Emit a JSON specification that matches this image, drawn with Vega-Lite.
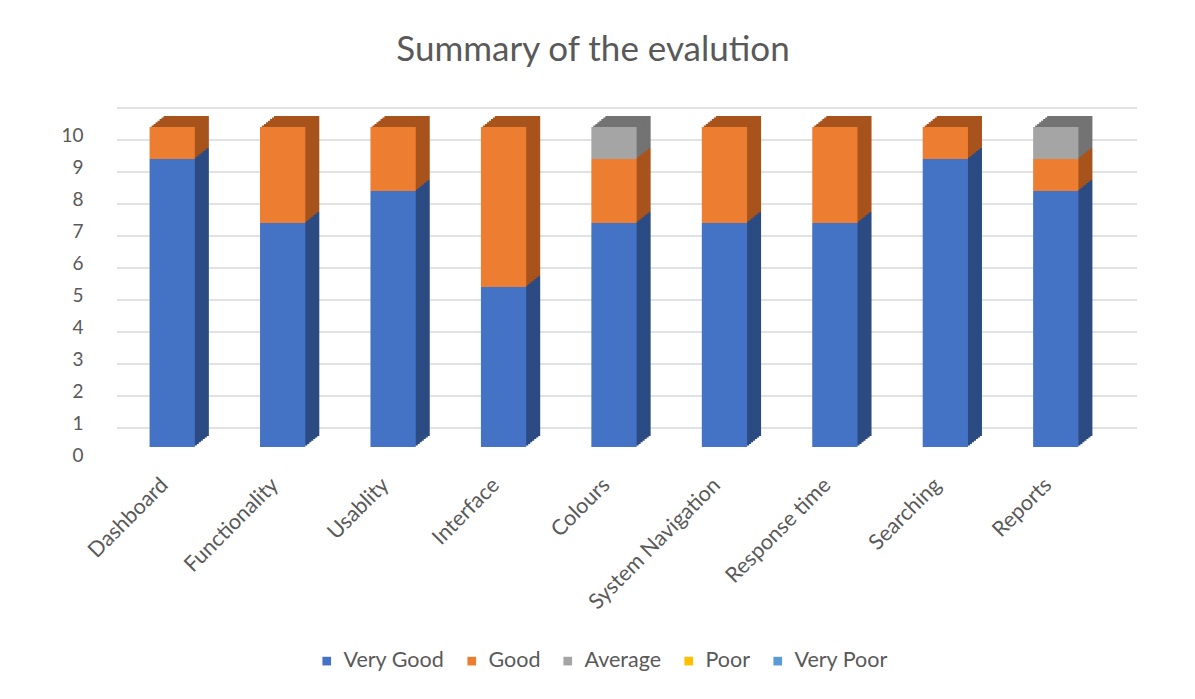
{
  "$schema": "https://vega.github.io/schema/vega-lite/v6.json",
  "autosize": {"type": "none"},
  "width": 994,
  "height": 320,
  "padding": {"left": 117, "top": 127, "right": 84, "bottom": 252},
  "background": "white",
  "title": {
    "text": "Summary of the evalution",
    "font": "Lato",
    "fontSize": 35,
    "fontWeight": "normal",
    "color": "#595959",
    "anchor": "middle",
    "dx": -21,
    "offset": 39
  },
  "config": {
    "view": {"stroke": null},
    "font": "Lato",
    "axisY": {"title": null, "values": [0,1,2,3,4,5,6,7,8,9,10], "tickCount": 10, "labelOverlap": false, "grid": false, "domain": false, "ticks": false,
      "labelFont": "Lato", "labelFontSize": 19, "labelColor": "#595959", "labelPadding": 34, "labelOffset": 8},
    "axisX": {"title": null, "labelAngle": -45, "domain": false, "ticks": false, "grid": false,
      "labelFont": "Lato", "labelFontSize": 21.5, "labelColor": "#595959", "labelPadding": 27, "labelOffset": -15}
  },
  "datasets": {
    "bars": [
      {"item": "Dashboard", "rating": "Very Good", "idx": 1, "count": 9},
      {"item": "Dashboard", "rating": "Good", "idx": 2, "count": 1},
      {"item": "Functionality", "rating": "Very Good", "idx": 1, "count": 7},
      {"item": "Functionality", "rating": "Good", "idx": 2, "count": 3},
      {"item": "Usablity", "rating": "Very Good", "idx": 1, "count": 8},
      {"item": "Usablity", "rating": "Good", "idx": 2, "count": 2},
      {"item": "Interface", "rating": "Very Good", "idx": 1, "count": 5},
      {"item": "Interface", "rating": "Good", "idx": 2, "count": 5},
      {"item": "Colours", "rating": "Very Good", "idx": 1, "count": 7},
      {"item": "Colours", "rating": "Good", "idx": 2, "count": 2},
      {"item": "Colours", "rating": "Average", "idx": 3, "count": 1},
      {"item": "System Navigation", "rating": "Very Good", "idx": 1, "count": 7},
      {"item": "System Navigation", "rating": "Good", "idx": 2, "count": 3},
      {"item": "Response time", "rating": "Very Good", "idx": 1, "count": 7},
      {"item": "Response time", "rating": "Good", "idx": 2, "count": 3},
      {"item": "Searching", "rating": "Very Good", "idx": 1, "count": 9},
      {"item": "Searching", "rating": "Good", "idx": 2, "count": 1},
      {"item": "Reports", "rating": "Very Good", "idx": 1, "count": 8},
      {"item": "Reports", "rating": "Good", "idx": 2, "count": 1},
      {"item": "Reports", "rating": "Average", "idx": 3, "count": 1}
    ],
    "grid": [
      {"v": 0}, {"v": 1}, {"v": 2}, {"v": 3}, {"v": 4}, {"v": 5},
      {"v": 6}, {"v": 7}, {"v": 8}, {"v": 9}, {"v": 10}
    ]
  },
  "resolve": {"scale": {"color": "independent"}, "legend": {"color": "independent"}},
  "layer": [
    {
      "data": {"name": "grid"},
      "mark": {"type": "rule", "color": "#D9D9D9", "strokeWidth": 1.5, "xOffset": 26, "x2Offset": 26, "yOffset": -19},
      "encoding": {
        "y": {"field": "v", "type": "quantitative", "scale": {"domain": [0, 10], "nice": false}}
      }
    },
    {
      "data": {"name": "bars"},
      "layer": [
        {"mark": {"type": "bar", "xOffset": 14, "yOffset": -11}},
        {"mark": {"type": "bar", "xOffset": 12, "yOffset": -9.4}},
        {"mark": {"type": "bar", "xOffset": 10, "yOffset": -7.9}},
        {"mark": {"type": "bar", "xOffset": 8, "yOffset": -6.3}},
        {"mark": {"type": "bar", "xOffset": 6, "yOffset": -4.7}},
        {"mark": {"type": "bar", "xOffset": 4, "yOffset": -3.1}},
        {"mark": {"type": "bar", "xOffset": 2, "yOffset": -1.6}}
      ],
      "encoding": {
        "x": {"field": "item", "type": "nominal", "sort": null, "scale": {"paddingInner": 0.59, "paddingOuter": 0.295}},
        "y": {"field": "count", "type": "quantitative", "stack": "zero"},
        "color": {"field": "rating", "type": "nominal",
          "scale": {"domain": ["Very Good", "Good", "Average", "Poor", "Very Poor"],
            "range": ["#2B4B82", "#A8531C", "#737373", "#B38600", "#3F6C95"]},
          "legend": null},
        "order": {"field": "idx", "type": "quantitative"}
      }
    },
    {
      "data": {"name": "bars"},
      "mark": {"type": "bar"},
      "encoding": {
        "x": {"field": "item", "type": "nominal", "sort": null},
        "y": {"field": "count", "type": "quantitative", "stack": "zero"},
        "color": {"field": "rating", "type": "nominal",
          "scale": {"domain": ["Very Good", "Good", "Average", "Poor", "Very Poor"],
            "range": ["#4472C4", "#ED7D31", "#A5A5A5", "#FFC000", "#5B9BD5"]},
          "legend": {"title": null, "orient": "none", "direction": "horizontal", "legendX": 199, "legendY": 523,
            "symbolType": "square", "symbolSize": 75, "symbolStrokeWidth": 0,
            "labelFont": "Lato", "labelFontSize": 21.5, "labelColor": "#595959", "columnPadding": 16, "labelOffset": 6}},
        "order": {"field": "idx", "type": "quantitative"}
      }
    }
  ]
}
